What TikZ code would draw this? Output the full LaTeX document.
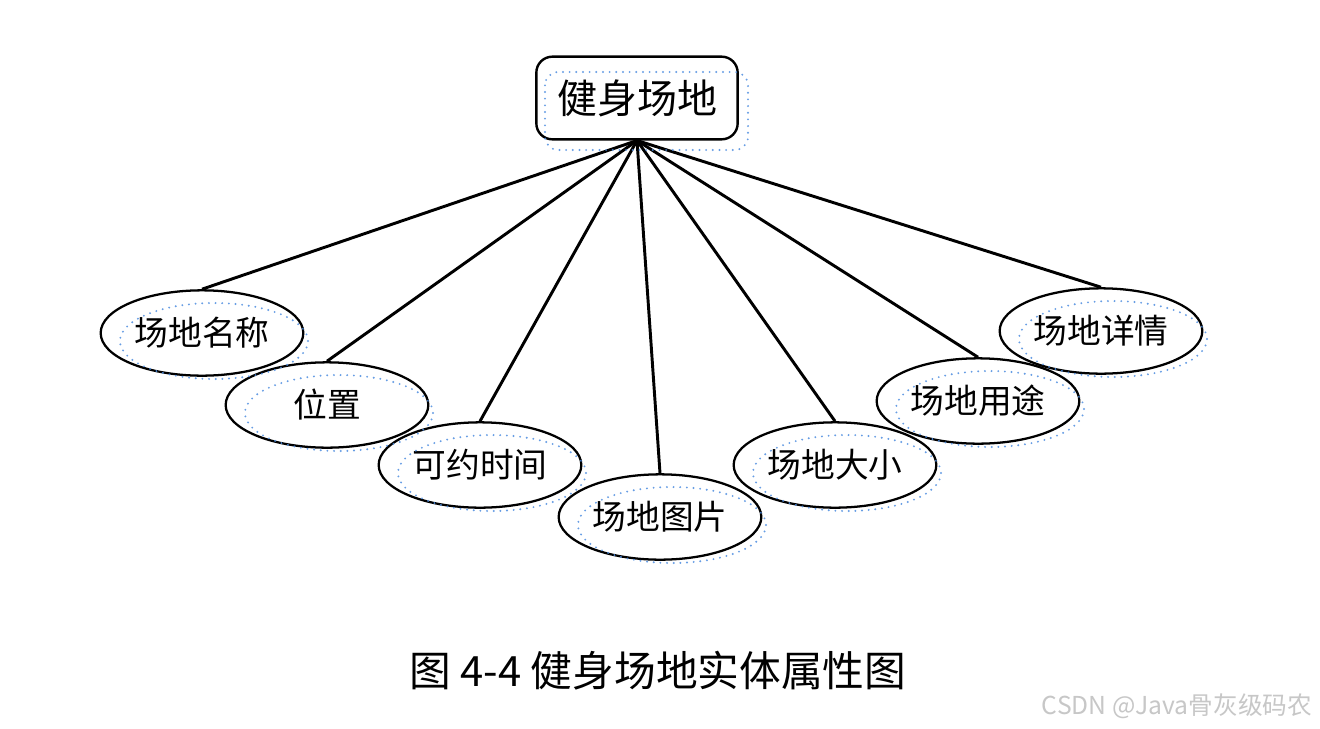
\documentclass[tikz,border=0pt]{standalone}
\usepackage{fontspec}
\newfontfamily\cjk{Noto Sans CJK SC}
\usetikzlibrary{shapes.geometric}
\definecolor{dotblue}{rgb}{0.3,0.55,0.88}
\definecolor{wmgray}{rgb}{0.78,0.78,0.78}
\begin{document}
\begin{tikzpicture}[x=0.75pt,y=-0.75pt,
  entity/.style={draw,fill=white,line width=1.8pt,rounded corners=12pt,minimum width=151pt,minimum height=62pt,font=\cjk\fontsize{30}{34}\selectfont,inner sep=0pt},
  attr/.style={draw,fill=white,ellipse,line width=1.7pt,minimum width=152pt,minimum height=64pt,font=\cjk\fontsize{25.3}{29}\selectfont,inner sep=0pt},
  link/.style={line width=2.2pt},
  ghost/.style={draw=dotblue,line width=1.6pt,line cap=round,dash pattern=on 0pt off 5pt,opacity=0.85}]
\useasboundingbox (0,0) rectangle (1320,728);
\fill[white] (0,0) rectangle (1320,728);

\node[entity] (top) at (637,98) {健身场地};

\node[attr] (a1) at (202,333) {场地名称};
\node[attr] (a2) at (327,405) {位置};
\node[attr] (a3) at (480,465) {可约时间};
\node[attr] (a4) at (660,517) {场地图片};
\node[attr] (a5) at (835,465) {场地大小};
\node[attr] (a6) at (978,401) {场地用途};
\node[attr] (a7) at (1101,331) {场地详情};

\foreach \n in {a1,a2,a3,a4,a5,a6,a7}
  \draw[link] (top.south) -- (\n.north);

% faint dotted drawing-grid artefacts
\foreach \x/\y in {202/333,327/405,480/465,660/517,835/465,978/401,1101/331}
  \draw[ghost] (\x+12,\y+8) ellipse [x radius=94, y radius=38];
\draw[ghost,rounded corners=10pt] (545,72) rectangle (748,150);

\node[font=\cjk\fontsize{31.3}{35}\selectfont] (cap) at (658,671) {图 4-4 健身场地实体属性图};
\node[font=\cjk\fontsize{18.5}{22}\selectfont,text=wmgray] (wm) at (1177,706) {CSDN @Java骨灰级码农};
\end{tikzpicture}
\end{document}
